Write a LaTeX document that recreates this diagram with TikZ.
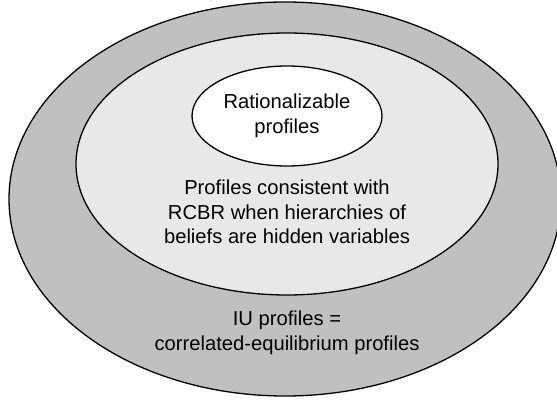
\documentclass[tikz,border=0pt]{standalone}
\usepackage{fontspec}
\setmainfont{Liberation Sans}
\usepackage{tikz}
\definecolor{dgrau}{HTML}{C0C0C0}
\definecolor{hgrau}{HTML}{E8E8E8}
\tikzset{
  menge/.style={draw=black,line width=1.3pt},
  txt/.style={align=center,font=\fontsize{20.2}{24.5}\selectfont,inner sep=0pt},
}

\begin{document}
\begin{tikzpicture}[x=1pt,y=1pt]
  \useasboundingbox (0,0) rectangle (557,400);
  \filldraw[menge,fill=dgrau] (285,201) ellipse [x radius=276,y radius=197];
  \filldraw[menge,fill=hgrau] (287,236) ellipse [x radius=211,y radius=131];
  \filldraw[menge,fill=white] (287,284) ellipse [x radius=95,y radius=50];
  \node[txt] (rat) at (287,284) {Rationalizable\\profiles};
  \node[txt] (rcbr) at (287,188) {Profiles consistent with\\RCBR when hierarchies of\\beliefs are hidden variables};
  \node[txt] (iu) at (287,67) {IU profiles =\\correlated-equilibrium profiles};
\end{tikzpicture}
\end{document}
